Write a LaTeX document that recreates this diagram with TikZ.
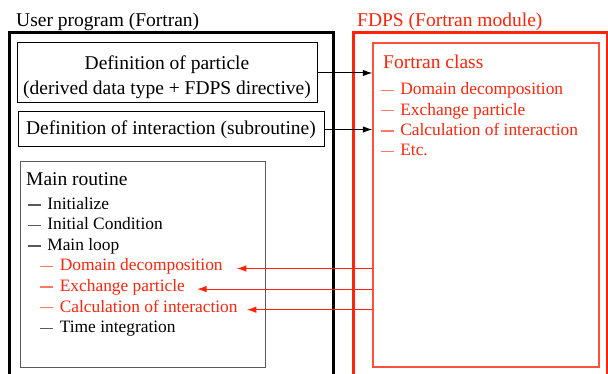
\documentclass[tikz,border=0pt]{standalone}
\usepackage{fontspec}
\setmainfont{Liberation Serif}
\usepackage{xcolor}
\usepackage{tikz}
\usetikzlibrary{positioning,calc,arrows.meta}
\definecolor{fdpsred}{RGB}{255,35,10}
\definecolor{fdpslight}{RGB}{255,120,100}
\definecolor{classline}{RGB}{255,80,60}
\definecolor{dashgray}{RGB}{90,90,90}
\newcommand{\itemdash}[1]{\textcolor{#1}{\rule[3.9pt]{13.2pt}{1.4pt}}\hspace{6.4pt}}

\begin{document}
\begin{tikzpicture}[x=1pt,y=-1pt,
    frame/.style={draw, line width=3pt, inner sep=0pt},
    box/.style={draw, line width=1pt, inner sep=0pt, align=center, font=\fontsize{19.5}{25}\selectfont},
    head/.style={anchor=base west, inner sep=0pt, font=\fontsize{19.5}{24}\selectfont},
    entry/.style={anchor=base west, inner sep=0pt, font=\fontsize{17.4}{20}\selectfont},
    link/.style={-{Latex[length=9.5pt,width=6.5pt]}, line width=1pt},
    backlink/.style={link, fdpsred}]
    \useasboundingbox (0,0) rectangle (608,374);
    \clip (0,0) rectangle (608,374);

    \node[head] (usertitle) at (16,26.5) {User program (Fortran)};
    \node[head, text=fdpsred] (fdpstitle) at (357,26.5) {FDPS (Fortran module)};
    \node[frame, minimum width=323.5pt, minimum height=367pt] (user) at (171.25,216.5) {};
    \node[frame, draw=fdpsred, minimum width=254pt, minimum height=367pt] (fdps) at (480,216.5) {};

    \node[box, minimum width=300pt, minimum height=60pt] (particle) at (167,73)
        {\rule{0pt}{23pt}Definition of particle\\(derived data type + FDPS directive)};
    \node[box, minimum width=306pt, minimum height=35pt] (interaction) at (171,129.5)
        {Definition of interaction (subroutine)};
    \node[box, draw=dashgray, minimum width=245pt, minimum height=205pt] (mainbox) at (142.5,264.5) {};
    \node[box, draw=classline, line width=1.3pt, minimum width=226pt, minimum height=324pt] (class) at (486,205) {};

    \node[head] (mainname) at (26,186) {Main routine};
    \node[entry] (init) at (27.5,209.5) {\itemdash{dashgray}Initialize};
    \node[entry] (initcond) at (27.5,230) {\itemdash{dashgray}Initial Condition};
    \node[entry] (loop) at (27.5,250.6) {\itemdash{dashgray}Main loop};
    \node[entry, text=fdpsred] (dd) at (40,271) {\itemdash{fdpslight}Domain decomposition};
    \node[entry, text=fdpsred] (exch) at (40,291.6) {\itemdash{fdpslight}Exchange particle};
    \node[entry, text=fdpsred] (calc) at (40,312.2) {\itemdash{fdpslight}Calculation of interaction};
    \node[entry] (timeint) at (40,332.8) {\itemdash{dashgray}Time integration};

    \node[head, text=fdpsred] (classname) at (383,68.3) {Fortran class};
    \node[entry, text=fdpsred] (cdd) at (380.5,95) {\itemdash{fdpslight}Domain decomposition};
    \node[entry, text=fdpsred] (cexch) at (380.5,115.3) {\itemdash{fdpslight}Exchange particle};
    \node[entry, text=fdpsred] (ccalc) at (380.5,135.6) {\itemdash{fdpslight}Calculation of interaction};
    \node[entry, text=fdpsred] (cetc) at (380.5,155.9) {\itemdash{fdpslight}Etc.};

    \draw[link] (particle.east) -- (particle.east -| class.west);
    \draw[link] (interaction.east) -- (interaction.east -| class.west);

    \coordinate (ddtip) at ($(dd.base east)+(14,-2.5)$);
    \coordinate (exchtip) at ($(exch.base east)+(12,-2.5)$);
    \coordinate (calctip) at ($(calc.base east)+(9,-2.5)$);
    \draw[backlink] (class.west |- ddtip) -- (ddtip);
    \draw[backlink] (class.west |- exchtip) -- (exchtip);
    \draw[backlink] (class.west |- calctip) -- (calctip);
\end{tikzpicture}
\end{document}
